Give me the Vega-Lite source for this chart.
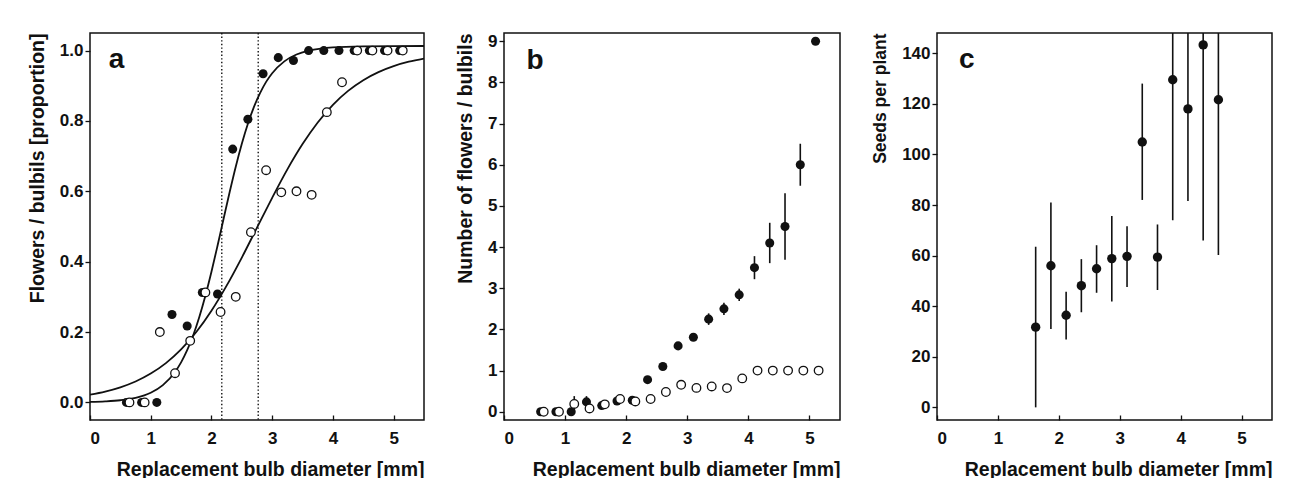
{
  "$schema": "https://vega.github.io/schema/vega-lite/v6.json",
  "background": "white",
  "padding": {"left": 26, "top": 31, "right": 5, "bottom": 0},
  "spacing": 29,
  "config": {
    "font": "Liberation Sans",
    "view": {"stroke": "#111", "strokeWidth": 1.5},
    "axis": {"grid": false, "domain": false, "labelFont": "Liberation Sans", "labelFontWeight": "bold", "labelFontSize": 17, "labelColor": "#111", "titleFont": "Liberation Sans", "titleFontWeight": "bold", "titleFontSize": 19.5, "titleColor": "#111", "tickColor": "#111", "tickWidth": 1.3},
    "axisX": {"tickSize": -5, "labelPadding": 15, "titleAnchor": "end", "titlePadding": 14},
    "axisY": {"tickSize": 5, "labelPadding": 2, "titleAnchor": "end", "titlePadding": 12}
  },
  "datasets": {
    "a_pts": [
      {"x": 0.6, "y": 0, "type": "flowers"}, {"x": 0.85, "y": 0, "type": "flowers"}, {"x": 1.1, "y": 0, "type": "flowers"},
      {"x": 1.35, "y": 0.25, "type": "flowers"}, {"x": 1.6, "y": 0.217, "type": "flowers"}, {"x": 1.85, "y": 0.3125, "type": "flowers"},
      {"x": 2.1, "y": 0.308, "type": "flowers"}, {"x": 2.35, "y": 0.72, "type": "flowers"}, {"x": 2.6, "y": 0.805, "type": "flowers"},
      {"x": 2.85, "y": 0.934, "type": "flowers"}, {"x": 3.1, "y": 0.98, "type": "flowers"}, {"x": 3.35, "y": 0.972, "type": "flowers"},
      {"x": 3.6, "y": 1, "type": "flowers"}, {"x": 3.85, "y": 1, "type": "flowers"}, {"x": 4.1, "y": 1, "type": "flowers"},
      {"x": 4.35, "y": 1, "type": "flowers"}, {"x": 4.6, "y": 1, "type": "flowers"}, {"x": 4.85, "y": 1, "type": "flowers"}, {"x": 5.1, "y": 1, "type": "flowers"},
      {"x": 0.65, "y": 0, "type": "bulbils"}, {"x": 0.9, "y": 0, "type": "bulbils"}, {"x": 1.15, "y": 0.2, "type": "bulbils"},
      {"x": 1.4, "y": 0.083, "type": "bulbils"}, {"x": 1.65, "y": 0.175, "type": "bulbils"}, {"x": 1.9, "y": 0.3125, "type": "bulbils"},
      {"x": 2.15, "y": 0.257, "type": "bulbils"}, {"x": 2.4, "y": 0.3, "type": "bulbils"}, {"x": 2.65, "y": 0.484, "type": "bulbils"},
      {"x": 2.9, "y": 0.66, "type": "bulbils"}, {"x": 3.15, "y": 0.597, "type": "bulbils"}, {"x": 3.4, "y": 0.6, "type": "bulbils"},
      {"x": 3.65, "y": 0.59, "type": "bulbils"}, {"x": 3.9, "y": 0.825, "type": "bulbils"}, {"x": 4.15, "y": 0.91, "type": "bulbils"},
      {"x": 4.4, "y": 1, "type": "bulbils"}, {"x": 4.65, "y": 1, "type": "bulbils"}, {"x": 4.9, "y": 1, "type": "bulbils"}, {"x": 5.15, "y": 1, "type": "bulbils"}
    ],
    "a_curves": [
      {"x": 0, "y": 0.0013, "curve": "flowers"}, {"x": 0.25, "y": 0.0029, "curve": "flowers"}, {"x": 0.5, "y": 0.0061, "curve": "flowers"},
      {"x": 0.75, "y": 0.0129, "curve": "flowers"}, {"x": 1.0, "y": 0.0273, "curve": "flowers"}, {"x": 1.2, "y": 0.049, "curve": "flowers"},
      {"x": 1.4, "y": 0.0865, "curve": "flowers"}, {"x": 1.5, "y": 0.1138, "curve": "flowers"}, {"x": 1.6, "y": 0.1483, "curve": "flowers"},
      {"x": 1.7, "y": 0.191, "curve": "flowers"}, {"x": 1.8, "y": 0.2427, "curve": "flowers"}, {"x": 1.9, "y": 0.3031, "curve": "flowers"},
      {"x": 2.0, "y": 0.3713, "curve": "flowers"}, {"x": 2.1, "y": 0.4453, "curve": "flowers"}, {"x": 2.2, "y": 0.5219, "curve": "flowers"},
      {"x": 2.3, "y": 0.598, "curve": "flowers"}, {"x": 2.4, "y": 0.67, "curve": "flowers"}, {"x": 2.5, "y": 0.735, "curve": "flowers"},
      {"x": 2.6, "y": 0.792, "curve": "flowers"}, {"x": 2.7, "y": 0.84, "curve": "flowers"}, {"x": 2.8, "y": 0.879, "curve": "flowers"},
      {"x": 2.9, "y": 0.911, "curve": "flowers"}, {"x": 3.0, "y": 0.9356, "curve": "flowers"}, {"x": 3.2, "y": 0.9694, "curve": "flowers"},
      {"x": 3.4, "y": 0.9888, "curve": "flowers"}, {"x": 3.6, "y": 0.9997, "curve": "flowers"}, {"x": 3.8, "y": 1.0057, "curve": "flowers"},
      {"x": 4.0, "y": 1.009, "curve": "flowers"}, {"x": 4.5, "y": 1.0121, "curve": "flowers"}, {"x": 5.0, "y": 1.0128, "curve": "flowers"}, {"x": 5.5, "y": 1.013, "curve": "flowers"},
      {"x": 0, "y": 0.0221, "curve": "bulbils"}, {"x": 0.25, "y": 0.0309, "curve": "bulbils"}, {"x": 0.5, "y": 0.043, "curve": "bulbils"},
      {"x": 0.75, "y": 0.0595, "curve": "bulbils"}, {"x": 1.0, "y": 0.082, "curve": "bulbils"}, {"x": 1.25, "y": 0.1117, "curve": "bulbils"},
      {"x": 1.5, "y": 0.1506, "curve": "bulbils"}, {"x": 1.75, "y": 0.2, "curve": "bulbils"}, {"x": 2.0, "y": 0.2606, "curve": "bulbils"},
      {"x": 2.25, "y": 0.3318, "curve": "bulbils"}, {"x": 2.5, "y": 0.4117, "curve": "bulbils"}, {"x": 2.75, "y": 0.4966, "curve": "bulbils"},
      {"x": 3.0, "y": 0.5816, "curve": "bulbils"}, {"x": 3.25, "y": 0.6623, "curve": "bulbils"}, {"x": 3.5, "y": 0.7342, "curve": "bulbils"},
      {"x": 3.75, "y": 0.7956, "curve": "bulbils"}, {"x": 4.0, "y": 0.846, "curve": "bulbils"}, {"x": 4.25, "y": 0.8855, "curve": "bulbils"},
      {"x": 4.5, "y": 0.916, "curve": "bulbils"}, {"x": 4.75, "y": 0.9389, "curve": "bulbils"}, {"x": 5.0, "y": 0.9559, "curve": "bulbils"},
      {"x": 5.25, "y": 0.9683, "curve": "bulbils"}, {"x": 5.5, "y": 0.9773, "curve": "bulbils"}
    ],
    "a_lines": [{"x": 2.17}, {"x": 2.77}],
    "b_pts": [
      {"x": 0.6, "y": 0, "type": "flowers"}, {"x": 0.85, "y": 0, "type": "flowers"}, {"x": 1.1, "y": 0, "type": "flowers"},
      {"x": 1.35, "y": 0.24, "lo": 0.1, "hi": 0.38, "type": "flowers"}, {"x": 1.6, "y": 0.15, "type": "flowers"},
      {"x": 1.85, "y": 0.26, "type": "flowers"}, {"x": 2.1, "y": 0.28, "type": "flowers"}, {"x": 2.35, "y": 0.78, "type": "flowers"},
      {"x": 2.6, "y": 1.1, "type": "flowers"}, {"x": 2.85, "y": 1.6, "type": "flowers"}, {"x": 3.1, "y": 1.81, "type": "flowers"},
      {"x": 3.35, "y": 2.25, "lo": 2.11, "hi": 2.39, "type": "flowers"}, {"x": 3.6, "y": 2.5, "lo": 2.35, "hi": 2.65, "type": "flowers"},
      {"x": 3.85, "y": 2.84, "lo": 2.69, "hi": 2.99, "type": "flowers"}, {"x": 4.1, "y": 3.5, "lo": 3.22, "hi": 3.78, "type": "flowers"},
      {"x": 4.35, "y": 4.1, "lo": 3.61, "hi": 4.59, "type": "flowers"}, {"x": 4.6, "y": 4.5, "lo": 3.69, "hi": 5.31, "type": "flowers"},
      {"x": 4.85, "y": 6.0, "lo": 5.49, "hi": 6.51, "type": "flowers"}, {"x": 5.1, "y": 9.0, "type": "flowers"},
      {"x": 0.65, "y": 0, "type": "bulbils"}, {"x": 0.9, "y": 0, "type": "bulbils"},
      {"x": 1.15, "y": 0.19, "lo": 0.0, "hi": 0.38, "type": "bulbils"}, {"x": 1.4, "y": 0.08, "type": "bulbils"},
      {"x": 1.65, "y": 0.18, "type": "bulbils"}, {"x": 1.9, "y": 0.31, "type": "bulbils"}, {"x": 2.15, "y": 0.25, "type": "bulbils"},
      {"x": 2.4, "y": 0.31, "type": "bulbils"}, {"x": 2.65, "y": 0.48, "type": "bulbils"}, {"x": 2.9, "y": 0.655, "type": "bulbils"},
      {"x": 3.15, "y": 0.58, "type": "bulbils"}, {"x": 3.4, "y": 0.615, "type": "bulbils"}, {"x": 3.65, "y": 0.575, "type": "bulbils"},
      {"x": 3.9, "y": 0.81, "type": "bulbils"}, {"x": 4.15, "y": 1.0, "type": "bulbils"}, {"x": 4.4, "y": 1.0, "type": "bulbils"},
      {"x": 4.65, "y": 1.0, "type": "bulbils"}, {"x": 4.9, "y": 1.0, "type": "bulbils"}, {"x": 5.15, "y": 1.0, "type": "bulbils"}
    ],
    "c_pts": [
      {"x": 1.62, "y": 31.7, "lo": 0, "hi": 63.5}, {"x": 1.87, "y": 56, "lo": 31, "hi": 81},
      {"x": 2.12, "y": 36.4, "lo": 26.8, "hi": 45.7}, {"x": 2.37, "y": 48.1, "lo": 37.6, "hi": 58.6},
      {"x": 2.62, "y": 54.8, "lo": 45.3, "hi": 64.1}, {"x": 2.87, "y": 58.8, "lo": 41.8, "hi": 75.7},
      {"x": 3.12, "y": 59.7, "lo": 47.6, "hi": 71.6}, {"x": 3.37, "y": 104.9, "lo": 82, "hi": 128},
      {"x": 3.62, "y": 59.4, "lo": 46.4, "hi": 72.3}, {"x": 3.87, "y": 129.5, "lo": 74, "hi": 185},
      {"x": 4.12, "y": 118, "lo": 81.6, "hi": 154.4}, {"x": 4.37, "y": 143.3, "lo": 66, "hi": 220},
      {"x": 4.62, "y": 121.6, "lo": 60.2, "hi": 183}
    ]
  },
  "hconcat": [
    {
      "width": 334, "height": 387,
      "layer": [
        {
          "data": {"name": "a_curves"},
          "mark": {"type": "line", "color": "#111", "strokeWidth": 1.8, "interpolate": "monotone", "clip": true},
          "encoding": {
            "x": {"field": "x", "type": "quantitative", "scale": {"domain": [0, 5.5], "nice": false, "zero": false}, "axis": {"values": [0, 1, 2, 3, 4, 5], "format": "d", "title": "Replacement bulb diameter [mm]"}},
            "y": {"field": "y", "type": "quantitative", "scale": {"domain": [-0.05, 1.05], "nice": false, "zero": false}, "axis": {"values": [0, 0.2, 0.4, 0.6, 0.8, 1.0], "format": ".1f", "title": "Flowers / bulbils [proportion]"}},
            "detail": {"field": "curve", "type": "nominal"}
          }
        },
        {
          "data": {"name": "a_lines"},
          "mark": {"type": "rule", "color": "#111", "strokeWidth": 1.4, "strokeDash": [1.4, 2.2]},
          "encoding": {"x": {"field": "x", "type": "quantitative"}}
        },
        {
          "data": {"name": "a_pts"},
          "transform": [{"filter": "datum.type === 'flowers'"}],
          "mark": {"type": "point", "shape": "circle", "filled": true, "color": "#111", "size": 82, "opacity": 1},
          "encoding": {"x": {"field": "x", "type": "quantitative"}, "y": {"field": "y", "type": "quantitative"}}
        },
        {
          "data": {"name": "a_pts"},
          "transform": [{"filter": "datum.type === 'bulbils'"}],
          "mark": {"type": "point", "shape": "circle", "filled": true, "fill": "white", "stroke": "#111", "strokeWidth": 1.3, "size": 74, "opacity": 1},
          "encoding": {"x": {"field": "x", "type": "quantitative"}, "y": {"field": "y", "type": "quantitative"}}
        },
        {
          "data": {"values": [{"x": 0.31, "y": 0.95, "label": "a"}]},
          "mark": {"type": "text", "align": "left", "baseline": "alphabetic", "fontSize": 28, "fontWeight": "bold", "color": "#111"},
          "encoding": {"x": {"field": "x", "type": "quantitative"}, "y": {"field": "y", "type": "quantitative"}, "text": {"field": "label"}}
        }
      ]
    },
    {
      "width": 336, "height": 387,
      "layer": [
        {
          "data": {"name": "b_pts"},
          "transform": [{"filter": "isValid(datum.lo)"}],
          "mark": {"type": "rule", "color": "#111", "strokeWidth": 1.6},
          "encoding": {
            "x": {"field": "x", "type": "quantitative", "scale": {"domain": [0, 5.5], "nice": false, "zero": false}, "axis": {"values": [0, 1, 2, 3, 4, 5], "format": "d", "title": "Replacement bulb diameter [mm]"}},
            "y": {"field": "lo", "type": "quantitative", "scale": {"domain": [-0.2, 9.2], "nice": false, "zero": false}, "axis": {"values": [0, 1, 2, 3, 4, 5, 6, 7, 8, 9], "format": "d", "title": "Number of flowers / bulbils"}},
            "y2": {"field": "hi"}
          }
        },
        {
          "data": {"name": "b_pts"},
          "transform": [{"filter": "datum.type === 'flowers'"}],
          "mark": {"type": "point", "shape": "circle", "filled": true, "color": "#111", "size": 82, "opacity": 1},
          "encoding": {"x": {"field": "x", "type": "quantitative"}, "y": {"field": "y", "type": "quantitative"}}
        },
        {
          "data": {"name": "b_pts"},
          "transform": [{"filter": "datum.type === 'bulbils'"}],
          "mark": {"type": "point", "shape": "circle", "filled": true, "fill": "white", "stroke": "#111", "strokeWidth": 1.3, "size": 74, "opacity": 1},
          "encoding": {"x": {"field": "x", "type": "quantitative"}, "y": {"field": "y", "type": "quantitative"}}
        },
        {
          "data": {"values": [{"x": 0.37, "y": 8.33, "label": "b"}]},
          "mark": {"type": "text", "align": "left", "baseline": "alphabetic", "fontSize": 28, "fontWeight": "bold", "color": "#111"},
          "encoding": {"x": {"field": "x", "type": "quantitative"}, "y": {"field": "y", "type": "quantitative"}, "text": {"field": "label"}}
        }
      ]
    },
    {
      "width": 335, "height": 387,
      "layer": [
        {
          "data": {"name": "c_pts"},
          "mark": {"type": "rule", "color": "#111", "strokeWidth": 1.6, "clip": true},
          "encoding": {
            "x": {"field": "x", "type": "quantitative", "scale": {"domain": [0, 5.5], "nice": false, "zero": false}, "axis": {"values": [0, 1, 2, 3, 4, 5], "format": "d", "title": "Replacement bulb diameter [mm]"}},
            "y": {"field": "lo", "type": "quantitative", "scale": {"domain": [-5, 148], "nice": false, "zero": false}, "axis": {"values": [0, 20, 40, 60, 80, 100, 120, 140], "format": "d", "title": "Seeds per plant", "titleFontSize": 17.5}},
            "y2": {"field": "hi"}
          }
        },
        {
          "data": {"name": "c_pts"},
          "mark": {"type": "point", "shape": "circle", "filled": true, "color": "#111", "size": 88, "opacity": 1},
          "encoding": {"x": {"field": "x", "type": "quantitative"}, "y": {"field": "y", "type": "quantitative"}}
        },
        {
          "data": {"values": [{"x": 0.36, "y": 134.2, "label": "c"}]},
          "mark": {"type": "text", "align": "left", "baseline": "alphabetic", "fontSize": 28, "fontWeight": "bold", "color": "#111"},
          "encoding": {"x": {"field": "x", "type": "quantitative"}, "y": {"field": "y", "type": "quantitative"}, "text": {"field": "label"}}
        }
      ]
    }
  ]
}
